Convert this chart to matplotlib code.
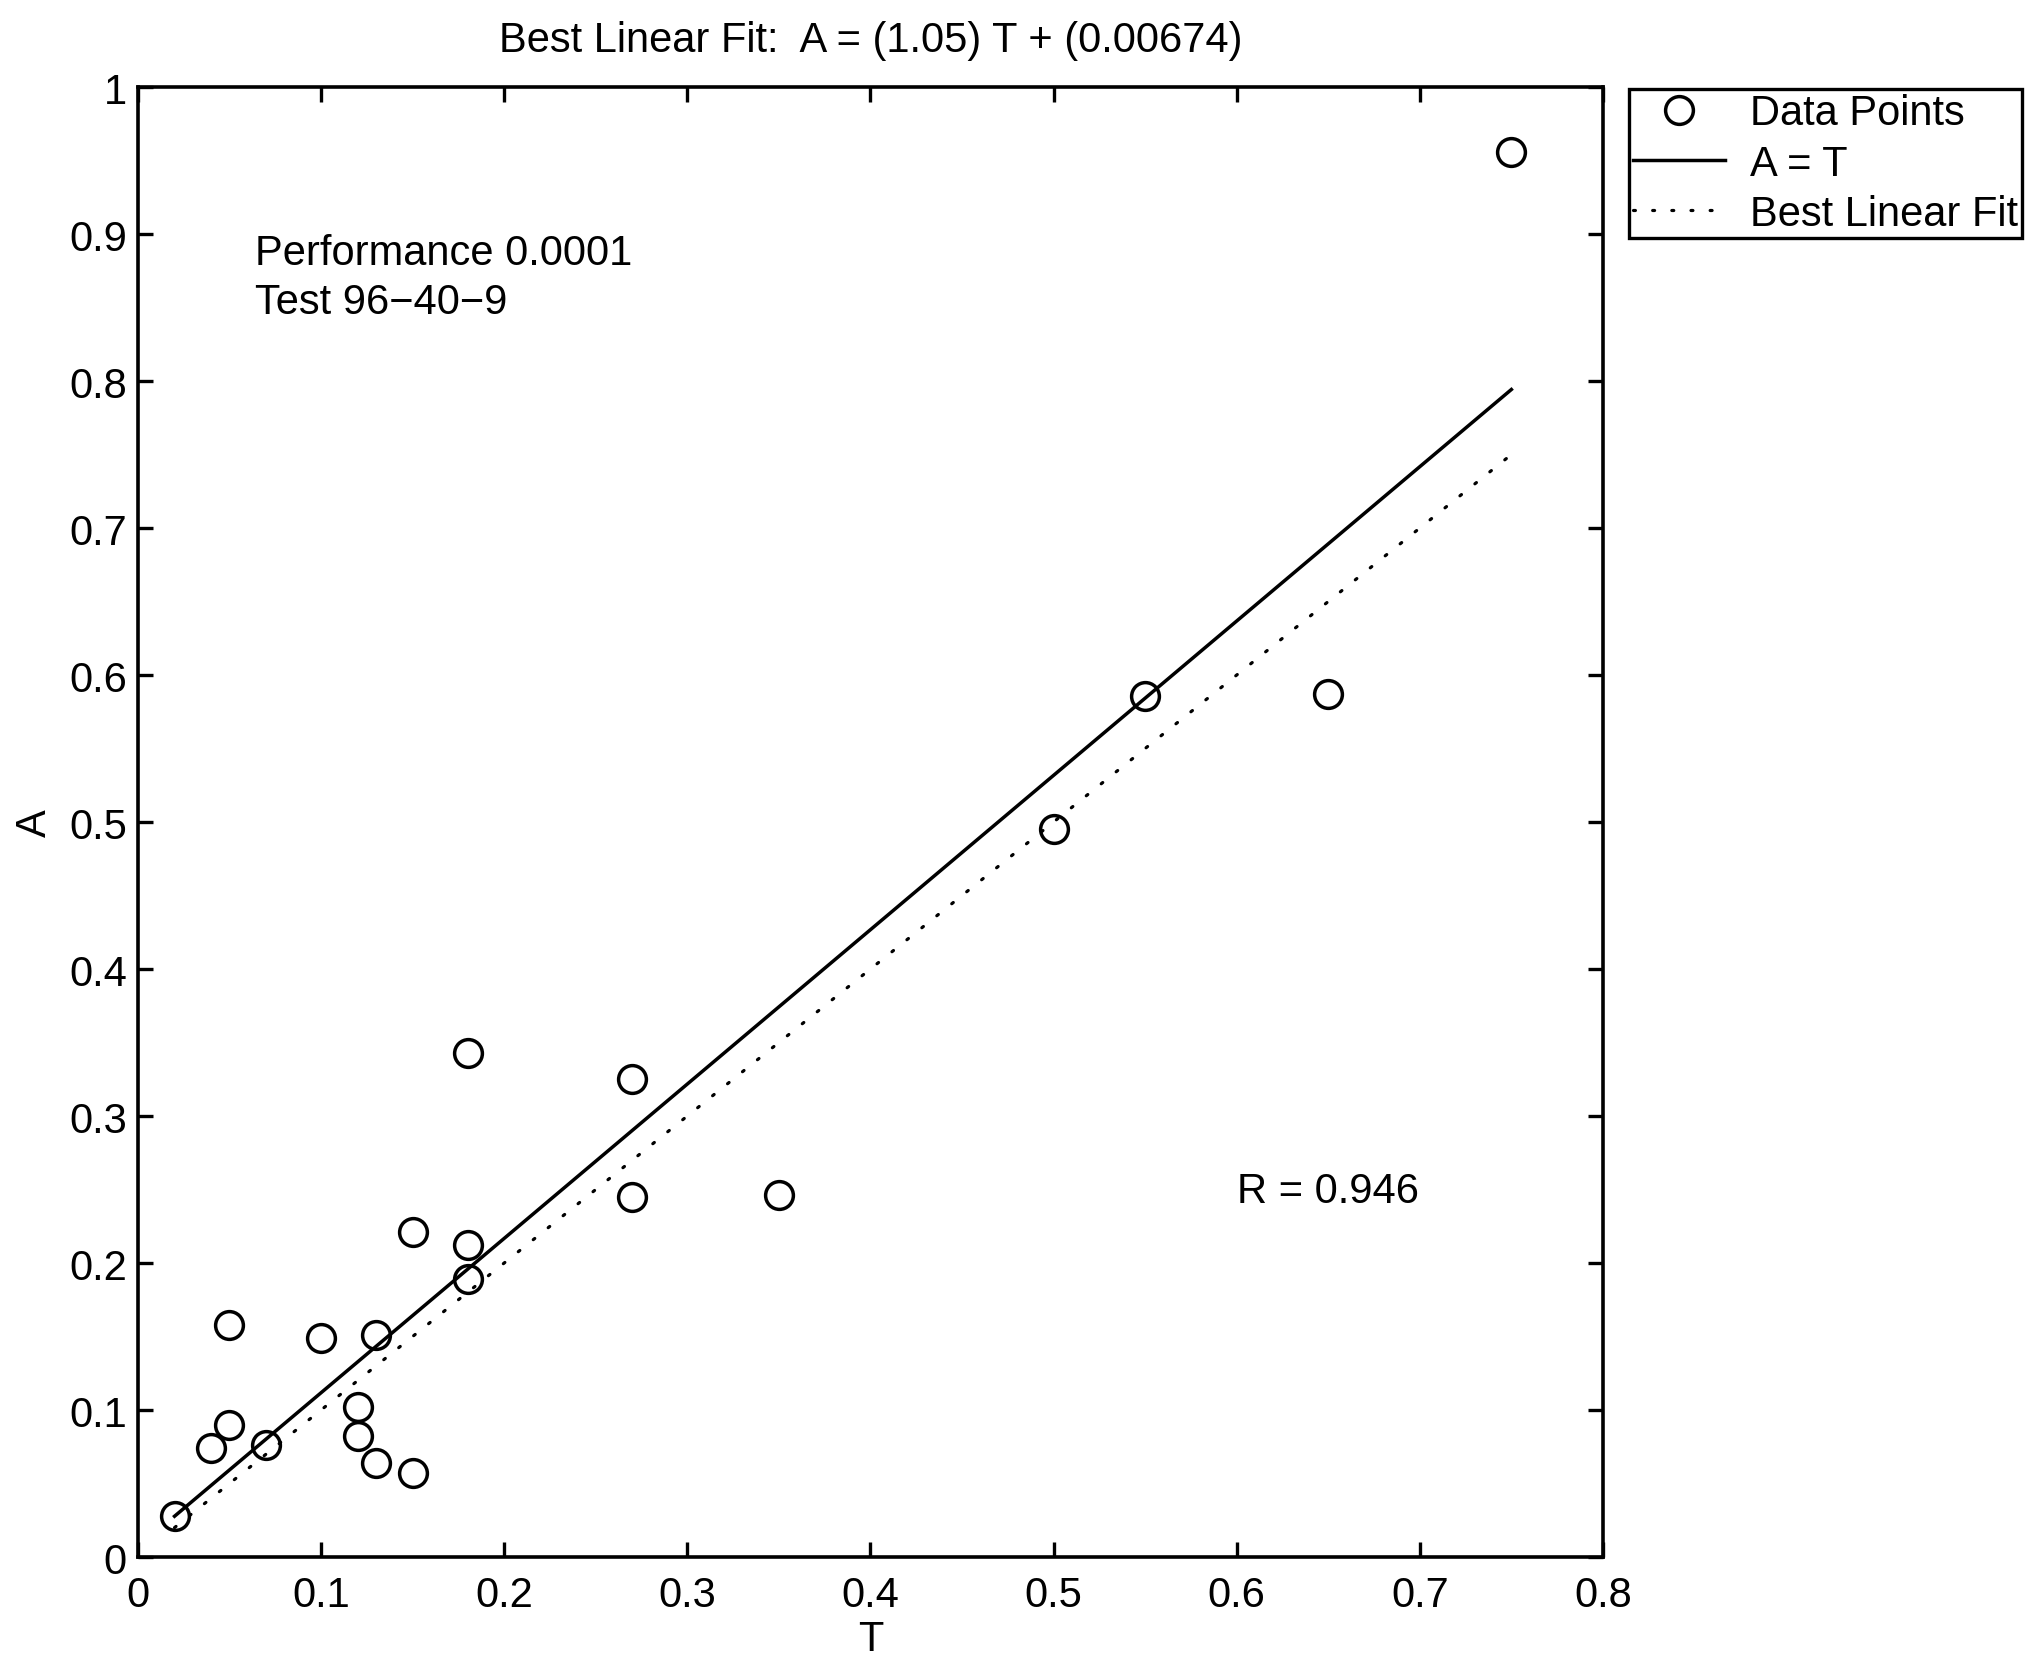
import matplotlib

matplotlib.use("Agg")
import matplotlib.pyplot as plt
import numpy as np

plt.rcParams["font.family"] = ["Liberation Sans", "DejaVu Sans"]

# targets (T) and network outputs (A)
T = [0.02, 0.04, 0.05, 0.05, 0.07, 0.10, 0.12, 0.12, 0.13, 0.13, 0.15,
     0.15, 0.18, 0.18, 0.18, 0.27, 0.27, 0.35, 0.50, 0.55, 0.65, 0.75]
A = [0.028, 0.074, 0.090, 0.158, 0.076, 0.149, 0.102, 0.082, 0.151, 0.064,
     0.221, 0.057, 0.343, 0.212, 0.189, 0.325, 0.245, 0.246, 0.495, 0.586,
     0.587, 0.956]
m, b, R = 1.05, 0.00674, 0.946

xticks = [0, 0.1, 0.2, 0.3, 0.4, 0.5, 0.6, 0.7, 0.8]
yticks = [0, 0.1, 0.2, 0.3, 0.4, 0.5, 0.6, 0.7, 0.8, 0.9, 1]

FS = 30

fig = plt.figure(figsize=(20.43, 16.58), dpi=100)
ax = fig.add_axes([0.0675, 0.0603, 0.7171, 0.8866])

span = np.array([min(T), max(T)])
# same draw order / labels as the MATLAB postreg output
h_pts, = ax.plot(T, A, "o", ms=20, mfc="none", mec="black", mew=2.5,
                 label="Data Points")
h_fit, = ax.plot(span, m * span + b, "-", color="black", lw=2.5,
                 label="A = T")
h_id, = ax.plot(span, span, color="black", lw=2.3, ls=(0, (0.6, 5.4)),
                dash_capstyle="round", label="Best Linear Fit")

ax.set_xlim(0, 0.8)
ax.set_ylim(0, 1)
ax.set_xticks(xticks)
ax.set_yticks(yticks)
ax.set_xticklabels([f"{v:g}" for v in xticks])
ax.set_yticklabels([f"{v:g}" for v in yticks])
ax.tick_params(direction="in", length=11, width=2.4, top=True, right=True,
               labelsize=FS)
ax.tick_params(axis="x", pad=13)
ax.tick_params(axis="y", pad=8)
for s in ax.spines.values():
    s.set_linewidth(2.6)

ax.set_xlabel("T", fontsize=FS, labelpad=3)
ax.set_ylabel("A", fontsize=FS, labelpad=10)
ax.set_title(f"Best Linear Fit:  A = ({m:g}) T + ({b:g})", fontsize=FS,
             pad=26)

ax.text(0.064, 0.887, "Performance 0.0001", fontsize=FS, va="center")
ax.text(0.064, 0.854, "Test 96\u221240\u22129", fontsize=FS, va="center")
ax.text(0.6, 0.249, f"R = {R:g}", fontsize=FS, va="center")

leg = ax.legend(handles=[h_pts, h_fit, h_id], loc="upper left",
                bbox_to_anchor=(1629 / 2043, 1 - 90 / 1658),
                bbox_transform=fig.transFigure, fontsize=FS, frameon=True,
                fancybox=False, edgecolor="black", framealpha=1,
                handlelength=2.2, handletextpad=0.6, borderpad=0.1,
                labelspacing=0.25, borderaxespad=0)
leg.get_frame().set_linewidth(2.4)

fig.savefig("out.png", dpi=100)
